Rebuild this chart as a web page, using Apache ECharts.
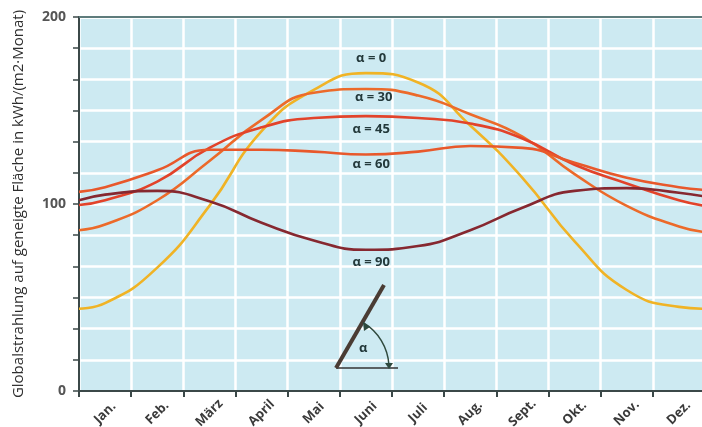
<!DOCTYPE html>
<html>
<head>
<meta charset="utf-8">
<script src="https://cdn.jsdelivr.net/npm/echarts@6/dist/echarts.min.js"></script>
<style>
  html, body { margin: 0; padding: 0; background: #fff; }
  #chart { width: 702px; height: 427px; }
</style>
</head>
<body>
<div id="chart"></div>
<script>
// Monate (Kategorien der x-Achse)
const months = ['Jan.', 'Feb.', 'März', 'April', 'Mai', 'Juni', 'Juli', 'Aug.', 'Sept.', 'Okt.', 'Nov.', 'Dez.'];
// x-Positionen: linker Rand, Monatsmitten, rechter Rand
const xPos = [0, 0.5, 1.5, 2.5, 3.5, 4.5, 5.5, 6.5, 7.5, 8.5, 9.5, 10.5, 11.5, 12];

// Globalstrahlung in kWh/(m2·Monat)
const alpha0  = [44, 47, 66, 99, 139, 161, 170, 165, 142, 114, 80, 54, 45, 44];
const alpha30 = [86, 89, 102, 123, 145, 159.5, 161.5, 158, 148, 136, 116, 99, 88, 85];
const alpha45 = [99.5, 102, 112, 130, 141, 146, 147, 146, 143, 135, 121, 111, 102, 99];
const alpha60 = [106.5, 109, 118, 129, 129, 128, 126.5, 128, 131, 130, 122, 114, 109, 107.5];
const alpha90 = [102, 105, 107, 101.5, 90, 80.5, 75.5, 77.5, 86, 98, 107, 108.5, 106, 104];

// Beschriftungen der Kurven: [Text, x, y] in Datenkoordinaten
const curveLabels = [
  ['α = 0', 5.6, 178],
  ['α = 30', 5.65, 157],
  ['α = 45', 5.6, 140],
  ['α = 60', 5.6, 121],
  ['α = 90', 5.6, 69]
];

const yTicks = [0, 100, 200];

const chart = echarts.init(document.getElementById('chart'), null, {renderer: 'canvas'});

const textColor = '#3a3a3a';
const axisColor = '#3b4848';

function mkSeries(name, data, color, idx) {
  const lab = curveLabels[idx];
  return {
    name: name,
    type: 'line',
    xAxisIndex: 1,
    smooth: 0.5,
    symbol: 'none',
    lineStyle: {color: color, width: 2.6},
    data: xPos.map((x, i) => [x, data[i]]),
    markPoint: {
      symbol: 'rect',
      symbolSize: 0,
      silent: true,
      data: [{
        coord: [lab[1], lab[2]],
        label: {
          show: true,
          formatter: lab[0],
          color: '#23393b',
          fontSize: 13,
          fontWeight: 'bold',
          fontFamily: 'Open Sans'
        }
      }]
    },
    z: 3 + idx
  };
}

const option = {
  backgroundColor: '#fff',
  animation: false,
  grid: {
    left: 79, top: 17, bottom: 36, width: 626,
    outerBoundsMode: 'none', containLabel: false,
    backgroundColor: '#cdeaf2', show: true, borderWidth: 0
  },
  xAxis: [
    {
      type: 'category',
      data: months,
      boundaryGap: true,
      axisLine: {lineStyle: {color: axisColor, width: 2}},
      axisTick: {show: true, length: 6, lineStyle: {color: axisColor, width: 2}},
      axisLabel: {
        rotate: 45,
        align: 'center',
        verticalAlign: 'middle',
        color: textColor,
        fontSize: 13,
        fontWeight: 'bold',
        fontFamily: 'Open Sans',
        margin: 22
      },
      splitLine: {show: true, lineStyle: {color: '#ffffff', width: 2.5}}
    },
    {
      type: 'value',
      min: 0,
      max: 12,
      show: false
    }
  ],
  yAxis: {
    type: 'value',
    min: 0,
    max: 200,
    interval: 100 / 6,
    name: 'Globalstrahlung auf geneigte Fläche in kWh/(m2·Monat)',
    nameLocation: 'middle',
    nameGap: 53,
    nameTextStyle: {color: '#2e2e2e', fontSize: 15, fontFamily: 'Open Sans'},
    axisLine: {show: true, lineStyle: {color: axisColor, width: 2}},
    axisTick: {show: true, length: 6, lineStyle: {color: axisColor, width: 1.5}},
    axisLabel: {
      color: '#555',
      fontSize: 14,
      fontWeight: 'bold',
      fontFamily: 'Open Sans',
      margin: 13,
      formatter: v => {
        const r = Math.round(v);
        return (Math.abs(v - r) < 0.01 && yTicks.includes(r)) ? String(r) : '';
      }
    },
    splitLine: {show: true, lineStyle: {color: '#ffffff', width: 2.5}}
  },
  series: [
    mkSeries('α = 0', alpha0, '#f0b325', 0),
    mkSeries('α = 30', alpha30, '#ec6a2a', 1),
    mkSeries('α = 45', alpha45, '#e2432a', 2),
    mkSeries('α = 60', alpha60, '#e8582b', 3),
    mkSeries('α = 90', alpha90, '#862830', 4)
  ],
  graphic: [
    // obere Begrenzung
    {type: 'line', shape: {x1: 79, y1: 17, x2: 702, y2: 17}, style: {stroke: '#5e7c7c', lineWidth: 2}, z: 10},
    // Neigungsskizze
    {type: 'line', shape: {x1: 336, y1: 368, x2: 398, y2: 368}, style: {stroke: '#333', lineWidth: 1.5}, z: 10},
    {type: 'line', shape: {x1: 336, y1: 368, x2: 384, y2: 285}, style: {stroke: '#4a3c34', lineWidth: 4}, z: 10},
    {type: 'arc', shape: {cx: 336, cy: 368, r: 53, startAngle: -1.03, endAngle: -0.06, clockwise: true},
      style: {stroke: '#2f4a3e', lineWidth: 1.5, fill: null}, z: 10},
    {type: 'polygon', shape: {points: [[363, 322], [370, 327], [364, 331]]}, style: {fill: '#2f4a3e'}, z: 10},
    {type: 'polygon', shape: {points: [[385, 363], [393, 363], [389, 369]]}, style: {fill: '#2f4a3e'}, z: 10},
    {type: 'text', x: 359, y: 342, style: {text: 'α', fill: '#23393b', fontSize: 13, fontWeight: 'bold', fontFamily: 'Open Sans'}, z: 10}
  ]
};

chart.setOption(option);
</script>
</body>
</html>
